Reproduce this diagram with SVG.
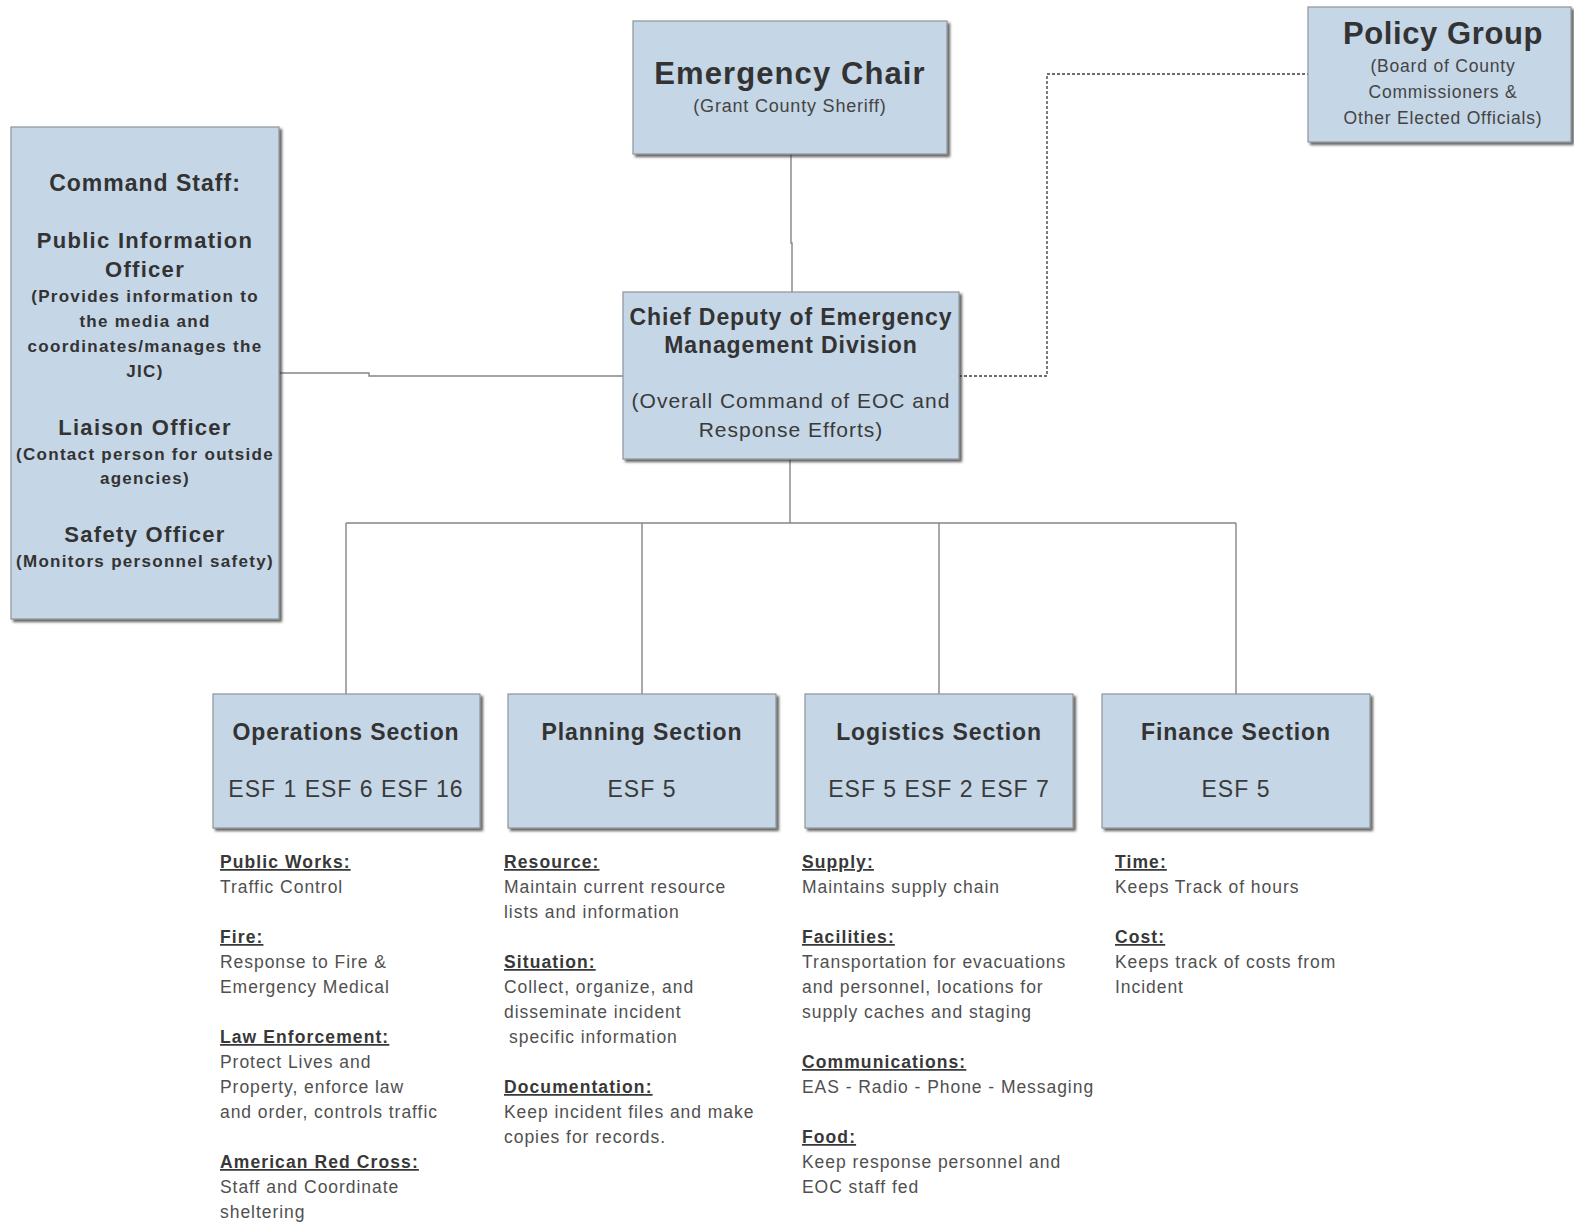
<svg xmlns="http://www.w3.org/2000/svg" width="1574" height="1225" viewBox="0 0 1574 1225">
<defs>
<filter id="sh" x="-5%" y="-5%" width="115%" height="115%">
<feDropShadow dx="2.5" dy="2.5" stdDeviation="1.2" flood-color="#333" flood-opacity="0.75"/>
</filter>
</defs>
<style>
.box{fill:#c5d6e6;stroke:#8e9499;stroke-width:1.2;filter:url(#sh)}
text{font-family:"Liberation Sans",Arial,sans-serif;fill:#333}
.c{text-anchor:middle}
.t1{font-size:31px;font-weight:bold;letter-spacing:1.1px}
.st{font-size:18px;fill:#444;letter-spacing:0.8px}
.cs{font-size:23px;font-weight:bold;letter-spacing:1px}
.cm{font-size:22px;font-weight:bold;letter-spacing:1.3px}
.cd{font-size:17px;font-weight:bold;letter-spacing:1.3px}
.h23{font-size:23px;font-weight:bold;letter-spacing:0.9px}
.r21{font-size:21px;fill:#3a3a3a;letter-spacing:1px}
.esf{font-size:23px;fill:#3a3a3a;letter-spacing:1px}
.lh{font-size:17.5px;font-weight:bold;letter-spacing:1.1px;text-decoration:underline;fill:#383838}
.lb{font-size:17.5px;fill:#505050;letter-spacing:0.95px}
.ln{fill:none;stroke:#858585;stroke-width:1.4}
.dash{fill:none;stroke:#6e6e6e;stroke-width:1.8;stroke-dasharray:3 2}
</style>

<g id="connectors">
<polyline class="ln" points="791,154 791,243 792,243 792,292"/>
<polyline class="ln" points="279,373 369,373 369,376 623,376"/>
<polyline class="dash" points="959,376 1047,376 1047,74 1308,74"/>
<line class="ln" x1="790" y1="459" x2="790" y2="523"/>
<line class="ln" x1="346" y1="523" x2="1236" y2="523"/>
<line class="ln" x1="346" y1="523" x2="346" y2="694"/>
<line class="ln" x1="642" y1="523" x2="642" y2="694"/>
<line class="ln" x1="939" y1="523" x2="939" y2="694"/>
<line class="ln" x1="1236" y1="523" x2="1236" y2="694"/>
</g>

<g id="emergency-chair">
<rect class="box" x="633" y="21" width="314" height="133"/>
<text class="c t1" x="790" y="84">Emergency Chair</text>
<text class="c st" x="790" y="112">(Grant County Sheriff)</text>
</g>

<g id="policy-group">
<rect class="box" x="1308" y="7" width="263" height="135"/>
<text class="c t1" x="1443" y="44" style="letter-spacing:0.6px">Policy Group</text>
<text class="c st" x="1443" y="72" style="font-size:17.5px">(Board of County</text>
<text class="c st" x="1443" y="98" style="font-size:17.5px">Commissioners &amp;</text>
<text class="c st" x="1443" y="124" style="font-size:17.5px">Other Elected Officials)</text>
</g>

<g id="command-staff">
<rect class="box" x="11" y="127" width="268" height="492"/>
<text class="c cs" x="145" y="191">Command Staff:</text>
<text class="c cm" x="145" y="248">Public Information</text>
<text class="c cm" x="145" y="277">Officer</text>
<text class="c cd" x="145" y="302">(Provides information to</text>
<text class="c cd" x="145" y="327">the media and</text>
<text class="c cd" x="145" y="352">coordinates/manages the</text>
<text class="c cd" x="145" y="377">JIC)</text>
<text class="c cm" x="145" y="435">Liaison Officer</text>
<text class="c cd" x="145" y="460">(Contact person for outside</text>
<text class="c cd" x="145" y="484">agencies)</text>
<text class="c cm" x="145" y="542">Safety Officer</text>
<text class="c cd" x="145" y="567">(Monitors personnel safety)</text>
</g>

<g id="chief-deputy">
<rect class="box" x="623" y="292" width="336" height="167"/>
<text class="c h23" x="791" y="325">Chief Deputy of Emergency</text>
<text class="c h23" x="791" y="353">Management Division</text>
<text class="c r21" x="791" y="408">(Overall Command of EOC and</text>
<text class="c r21" x="791" y="437">Response Efforts)</text>
</g>

<g id="operations-section">
<rect class="box" x="213" y="694" width="267" height="134"/>
<text class="c h23" x="346" y="740">Operations Section</text>
<text class="c esf" x="346" y="797">ESF 1 ESF 6 ESF 16</text>
</g>

<g id="planning-section">
<rect class="box" x="508" y="694" width="268" height="134"/>
<text class="c h23" x="642" y="740">Planning Section</text>
<text class="c esf" x="642" y="797">ESF 5</text>
</g>

<g id="logistics-section">
<rect class="box" x="805" y="694" width="268" height="134"/>
<text class="c h23" x="939" y="740">Logistics Section</text>
<text class="c esf" x="939" y="797">ESF 5 ESF 2 ESF 7</text>
</g>

<g id="finance-section">
<rect class="box" x="1102" y="694" width="268" height="134"/>
<text class="c h23" x="1236" y="740">Finance Section</text>
<text class="c esf" x="1236" y="797">ESF 5</text>
</g>

<g id="operations-notes">
<text class="lh" x="220" y="868">Public Works:</text>
<text class="lb" x="220" y="893">Traffic Control</text>
<text class="lh" x="220" y="943">Fire:</text>
<text class="lb" x="220" y="968">Response to Fire &amp;</text>
<text class="lb" x="220" y="993">Emergency Medical</text>
<text class="lh" x="220" y="1043">Law Enforcement:</text>
<text class="lb" x="220" y="1068">Protect Lives and</text>
<text class="lb" x="220" y="1093">Property, enforce law</text>
<text class="lb" x="220" y="1118">and order, controls traffic</text>
<text class="lh" x="220" y="1168">American Red Cross:</text>
<text class="lb" x="220" y="1193">Staff and Coordinate</text>
<text class="lb" x="220" y="1218">sheltering</text>
</g>

<g id="planning-notes">
<text class="lh" x="504" y="868">Resource:</text>
<text class="lb" x="504" y="893">Maintain current resource</text>
<text class="lb" x="504" y="918">lists and information</text>
<text class="lh" x="504" y="968">Situation:</text>
<text class="lb" x="504" y="993">Collect, organize, and</text>
<text class="lb" x="504" y="1018">disseminate incident</text>
<text class="lb" x="509" y="1043">specific information</text>
<text class="lh" x="504" y="1093">Documentation:</text>
<text class="lb" x="504" y="1118">Keep incident files and make</text>
<text class="lb" x="504" y="1143">copies for records.</text>
</g>

<g id="logistics-notes">
<text class="lh" x="802" y="868">Supply:</text>
<text class="lb" x="802" y="893">Maintains supply chain</text>
<text class="lh" x="802" y="943">Facilities:</text>
<text class="lb" x="802" y="968">Transportation for evacuations</text>
<text class="lb" x="802" y="993">and personnel, locations for</text>
<text class="lb" x="802" y="1018">supply caches and staging</text>
<text class="lh" x="802" y="1068">Communications:</text>
<text class="lb" x="802" y="1093">EAS - Radio - Phone - Messaging</text>
<text class="lh" x="802" y="1143">Food:</text>
<text class="lb" x="802" y="1168">Keep response personnel and</text>
<text class="lb" x="802" y="1193">EOC staff fed</text>
</g>

<g id="finance-notes">
<text class="lh" x="1115" y="868">Time:</text>
<text class="lb" x="1115" y="893">Keeps Track of hours</text>
<text class="lh" x="1115" y="943">Cost:</text>
<text class="lb" x="1115" y="968">Keeps track of costs from</text>
<text class="lb" x="1115" y="993">Incident</text>
</g>
</svg>
